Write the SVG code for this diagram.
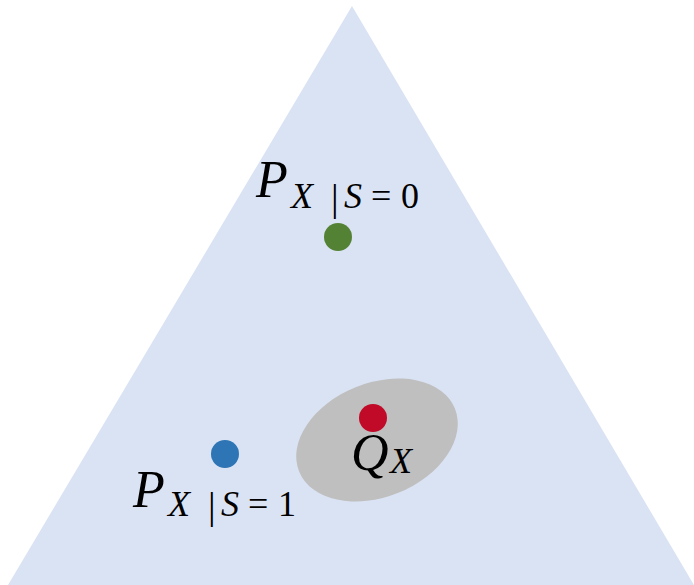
<svg xmlns="http://www.w3.org/2000/svg" width="694" height="585" viewBox="0 0 694 585">
<style>
.m{font-family:"Liberation Serif","DejaVu Serif",serif;fill:#000}
.i{font-style:italic}
.big{font-size:52px}
.sub{font-size:36px}
.bar{font-size:38px}
</style>
<g id="simplex"><polygon points="352,6 8,585 694,585" fill="#dae3f3"/></g>
<g id="region-q"><ellipse cx="377" cy="440" rx="84" ry="57" transform="rotate(-22 377 440)" fill="#bfbfbf"/></g>
<g id="p0">
<circle cx="338" cy="237" r="14" fill="#548235"/>
<text class="m"><tspan class="i big" x="256" y="197">P</tspan><tspan class="i sub" x="291" y="208">X</tspan><tspan class="bar" x="331" y="211">|</tspan><tspan class="i sub" x="344" y="208">S</tspan><tspan class="sub" x="371" y="208">=</tspan><tspan class="sub" x="401" y="208">0</tspan></text>
</g>
<g id="p1">
<circle cx="225" cy="454" r="14" fill="#2e75b6"/>
<text class="m"><tspan class="i big" x="133" y="507">P</tspan><tspan class="i sub" x="168" y="516">X</tspan><tspan class="bar" x="208" y="519">|</tspan><tspan class="i sub" x="221" y="516">S</tspan><tspan class="sub" x="248" y="516">=</tspan><tspan class="sub" x="278" y="516">1</tspan></text>
</g>
<g id="q">
<circle cx="373" cy="418" r="14" fill="#c00a28"/>
<text class="m"><tspan class="i big" x="351" y="470">Q</tspan><tspan class="i sub" x="390" y="473">X</tspan></text>
</g>
<g id="connectors"></g>
</svg>
